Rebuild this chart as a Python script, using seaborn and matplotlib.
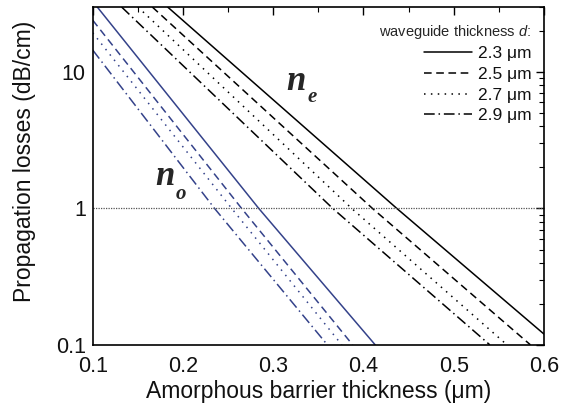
import matplotlib
matplotlib.use("Agg")
import matplotlib.pyplot as plt
import seaborn as sns
import pandas as pd
import numpy as np
from matplotlib.ticker import MultipleLocator, LogLocator, FixedLocator, NullFormatter

# ---- data ----
thickness_labels = ["2.3 μm", "2.5 μm", "2.7 μm", "2.9 μm"]

# n_e curves (black): x positions and losses
ne_x = [
    [0.183, 0.437, 0.600],
    [0.166, 0.410, 0.585],
    [0.150, 0.387, 0.559],
    [0.132, 0.366, 0.540],
]
ne_y = [
    [30, 1, 0.12],
    [30, 1, 0.10],
    [30, 1, 0.10],
    [30, 1, 0.10],
]

# n_o curves (blue)
no_x = [
    [0.100, 0.284, 0.413],
    [0.100, 0.265, 0.388],
    [0.100, 0.254, 0.376],
    [0.100, 0.235, 0.360],
]
no_y = [
    [33, 1, 0.1],
    [24, 1, 0.1],
    [19.4, 1, 0.1],
    [14.5, 1, 0.1],
]

ref_level = 1.0
x_ticks = [0.1, 0.2, 0.3, 0.4, 0.5, 0.6]
y_ticks = [0.1, 1, 10]
y_tick_labels = ["0.1", "1", "10"]

# ---- style ----
sns.set_theme(style="white")
plt.rcParams['font.family'] = ['Liberation Sans', 'DejaVu Sans']
plt.rcParams['mathtext.fontset'] = 'custom'
plt.rcParams['mathtext.it'] = 'Liberation Sans:italic'
plt.rcParams['mathtext.rm'] = 'Liberation Sans'

styles = ['-', (0, (5, 3)), (0, (1, 3.5)), (0, (7, 2.5, 1, 2.5))]
blue = '#34428a'

fig = plt.figure(figsize=(5.69, 4.13), dpi=100)
ax = fig.add_axes([0.163, 0.165, 0.793, 0.818])

for i in range(4):
    d = pd.DataFrame({"x": ne_x[i], "y": ne_y[i]})
    sns.lineplot(data=d, x="x", y="y", ax=ax, color='black', linewidth=1.1,
                 linestyle=styles[i], sort=False, estimator=None, label=thickness_labels[i])
for i in range(4):
    d = pd.DataFrame({"x": no_x[i], "y": no_y[i]})
    sns.lineplot(data=d, x="x", y="y", ax=ax, color=blue, linewidth=1.1,
                 linestyle=styles[i], sort=False, estimator=None, legend=False)

ax.axhline(ref_level, color='#555555', linewidth=0.9, linestyle=(0, (1, 1)))

ax.set_yscale('log')
ax.set_xlim(0.1, 0.6)
ax.set_ylim(0.1, 30)

ax.xaxis.set_major_locator(FixedLocator(x_ticks))
ax.xaxis.set_minor_locator(MultipleLocator(0.05))
ax.set_xticklabels([f"{t:.1f}" for t in x_ticks])
ax.yaxis.set_major_locator(FixedLocator(y_ticks))
ax.set_yticklabels(y_tick_labels)
ax.yaxis.set_minor_locator(LogLocator(base=10, subs=np.arange(2, 10)))
ax.yaxis.set_minor_formatter(NullFormatter())

ax.tick_params(which='both', direction='in', top=True, right=True, labelsize=15.5,
               color='black', labelcolor='#111111')
ax.tick_params(which='major', length=6, width=1)
ax.tick_params(axis='x', which='major', pad=8)
ax.tick_params(axis='y', which='major', pad=5)
ax.tick_params(which='minor', length=3.5, width=0.8)
for s in ax.spines.values():
    s.set_color('black')
    s.set_linewidth(1.2)

ax.set_xlabel("Amorphous barrier thickness (μm)", fontsize=16.5, labelpad=2, color='#111111')
ax.set_ylabel("Propagation losses (dB/cm)", fontsize=16.5, color='#111111')
ax.yaxis.set_label_coords(-0.125, 0.544)

ax.text(0.315, 7.4, "n", fontsize=25, fontstyle='italic', fontweight='bold',
        family='Liberation Serif', ha='left', va='baseline')
ax.text(0.338, 6.0, "e", fontsize=15, fontstyle='italic', fontweight='bold',
        family='Liberation Serif', ha='left', va='baseline')
ax.text(0.169, 1.48, "n", fontsize=25, fontstyle='italic', fontweight='bold',
        family='Liberation Serif', ha='left', va='baseline')
ax.text(0.192, 1.17, "o", fontsize=15, fontstyle='italic', fontweight='bold',
        family='Liberation Serif', ha='left', va='baseline')

leg = ax.legend(loc='upper right', frameon=False, fontsize=12.5,
                title="waveguide thickness $d$:", title_fontsize=10.5,
                handlelength=2.8, handletextpad=0.3, labelspacing=0.32,
                markerfirst=True, borderaxespad=0.2, bbox_to_anchor=(0.995, 0.985))
leg._legend_box.align = "right"
for t in leg.get_texts():
    t.set_color('#111111')

fig.savefig("out.png", dpi=100)
